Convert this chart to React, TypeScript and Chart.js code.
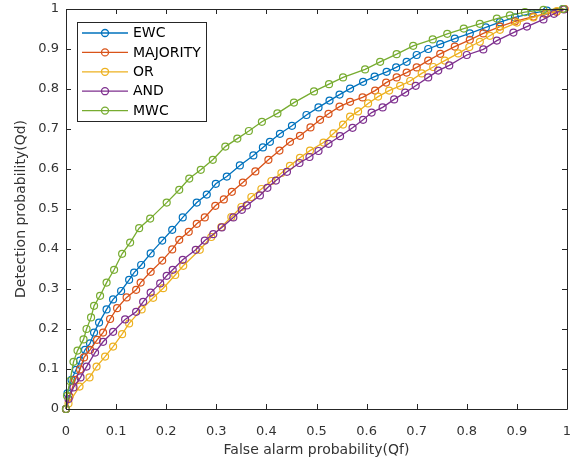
import { useEffect, useRef } from 'react';
import { Chart, registerables } from 'chart.js';

Chart.register(...registerables);

// ---------- data ----------
const seriesLabels = ['EWC', 'MAJORITY', 'OR', 'AND', 'MWC'];
const seriesColors = ['#0072BD', '#D95319', '#EDB120', '#7E2F8E', '#77AC30'];

const tickValues = [0, 0.1, 0.2, 0.3, 0.4, 0.5, 0.6, 0.7, 0.8, 0.9, 1];
const tickLabels = ['0', '0.1', '0.2', '0.3', '0.4', '0.5', '0.6', '0.7', '0.8', '0.9', '1'];

const xTitle = 'False alarm probability(Qf)';
const yTitle = 'Detection probability(Qd)';

const ewcX = [0, 0.003, 0.011, 0.02, 0.028, 0.038, 0.048, 0.056, 0.066, 0.081, 0.094, 0.11, 0.126, 0.136, 0.15, 0.169, 0.192, 0.212, 0.233, 0.261, 0.281, 0.299, 0.321, 0.347, 0.374, 0.393, 0.407, 0.427, 0.451, 0.48, 0.504, 0.526, 0.546, 0.567, 0.593, 0.616, 0.64, 0.659, 0.68, 0.7, 0.723, 0.747, 0.776, 0.806, 0.838, 0.866, 0.896, 0.93, 0.96, 0.992];
const ewcY = [0, 0.039, 0.073, 0.098, 0.121, 0.148, 0.164, 0.191, 0.216, 0.249, 0.274, 0.295, 0.323, 0.341, 0.36, 0.389, 0.421, 0.448, 0.479, 0.516, 0.536, 0.563, 0.581, 0.609, 0.634, 0.654, 0.668, 0.688, 0.708, 0.735, 0.754, 0.771, 0.786, 0.801, 0.818, 0.831, 0.843, 0.854, 0.868, 0.885, 0.9, 0.912, 0.926, 0.939, 0.954, 0.967, 0.979, 0.989, 0.996, 1.0];

const majX = [0, 0.007, 0.018, 0.028, 0.036, 0.048, 0.062, 0.074, 0.088, 0.102, 0.121, 0.14, 0.149, 0.169, 0.192, 0.212, 0.226, 0.245, 0.261, 0.277, 0.298, 0.315, 0.331, 0.353, 0.378, 0.404, 0.426, 0.447, 0.467, 0.488, 0.507, 0.524, 0.546, 0.567, 0.592, 0.617, 0.639, 0.66, 0.68, 0.7, 0.723, 0.747, 0.776, 0.806, 0.833, 0.866, 0.896, 0.933, 0.956, 0.979, 0.995];
const majY = [0, 0.031, 0.073, 0.099, 0.129, 0.148, 0.173, 0.191, 0.225, 0.252, 0.279, 0.298, 0.316, 0.343, 0.371, 0.399, 0.423, 0.443, 0.463, 0.479, 0.508, 0.524, 0.543, 0.566, 0.594, 0.623, 0.646, 0.668, 0.683, 0.704, 0.723, 0.738, 0.756, 0.768, 0.779, 0.796, 0.816, 0.829, 0.841, 0.854, 0.871, 0.888, 0.906, 0.923, 0.939, 0.956, 0.969, 0.981, 0.988, 0.993, 1.0];

const orX = [0, 0.005, 0.027, 0.047, 0.061, 0.078, 0.094, 0.112, 0.126, 0.151, 0.174, 0.194, 0.218, 0.234, 0.267, 0.29, 0.31, 0.33, 0.35, 0.37, 0.39, 0.41, 0.43, 0.447, 0.467, 0.487, 0.514, 0.534, 0.553, 0.567, 0.583, 0.603, 0.623, 0.645, 0.667, 0.687, 0.71, 0.733, 0.756, 0.783, 0.805, 0.826, 0.846, 0.866, 0.9, 0.933, 0.96, 0.98, 0.995];
const orY = [0, 0.014, 0.056, 0.079, 0.106, 0.131, 0.156, 0.187, 0.214, 0.249, 0.278, 0.302, 0.335, 0.358, 0.398, 0.43, 0.455, 0.48, 0.505, 0.53, 0.55, 0.57, 0.59, 0.608, 0.628, 0.646, 0.666, 0.689, 0.711, 0.731, 0.744, 0.764, 0.781, 0.796, 0.808, 0.82, 0.839, 0.855, 0.871, 0.889, 0.905, 0.918, 0.933, 0.948, 0.966, 0.979, 0.989, 0.995, 1.0];

const andX = [0, 0.005, 0.015, 0.029, 0.041, 0.058, 0.074, 0.094, 0.118, 0.14, 0.154, 0.169, 0.188, 0.201, 0.213, 0.233, 0.259, 0.277, 0.294, 0.311, 0.334, 0.351, 0.361, 0.387, 0.402, 0.419, 0.441, 0.466, 0.486, 0.504, 0.524, 0.547, 0.572, 0.593, 0.61, 0.632, 0.655, 0.677, 0.698, 0.723, 0.743, 0.765, 0.8, 0.833, 0.86, 0.893, 0.92, 0.953, 0.974, 0.994];
const andY = [0, 0.025, 0.054, 0.079, 0.106, 0.141, 0.168, 0.193, 0.224, 0.243, 0.268, 0.291, 0.314, 0.333, 0.348, 0.373, 0.398, 0.421, 0.437, 0.454, 0.479, 0.498, 0.509, 0.534, 0.553, 0.571, 0.593, 0.615, 0.63, 0.645, 0.663, 0.682, 0.703, 0.723, 0.741, 0.754, 0.774, 0.791, 0.808, 0.829, 0.846, 0.859, 0.885, 0.899, 0.921, 0.941, 0.956, 0.974, 0.988, 0.999];

const mwcX = [0, 0.002, 0.008, 0.015, 0.023, 0.035, 0.041, 0.05, 0.056, 0.068, 0.081, 0.096, 0.112, 0.128, 0.146, 0.168, 0.201, 0.226, 0.246, 0.269, 0.293, 0.318, 0.342, 0.365, 0.391, 0.422, 0.455, 0.495, 0.525, 0.553, 0.597, 0.627, 0.66, 0.693, 0.732, 0.761, 0.794, 0.826, 0.86, 0.886, 0.916, 0.953, 0.992];
const mwcY = [0, 0.033, 0.07, 0.118, 0.146, 0.174, 0.2, 0.229, 0.258, 0.283, 0.316, 0.348, 0.388, 0.416, 0.452, 0.476, 0.516, 0.548, 0.576, 0.598, 0.623, 0.656, 0.676, 0.695, 0.718, 0.739, 0.766, 0.794, 0.812, 0.829, 0.849, 0.868, 0.887, 0.908, 0.924, 0.938, 0.951, 0.963, 0.976, 0.984, 0.992, 0.998, 1.0];

const seriesX = [ewcX, majX, orX, andX, mwcX];
const seriesY = [ewcY, majY, orY, andY, mwcY];

const FONT = "'DejaVu Sans', 'Liberation Sans', Arial, sans-serif";
const AXIS_COLOR = '#262626';

const framePlugin = {
  id: 'matlabFrame',
  afterDraw(chart: any) {
    const { ctx, chartArea } = chart;
    const { left, right, top, bottom } = chartArea;
    const xs = chart.scales.x;
    const ys = chart.scales.y;
    ctx.save();
    ctx.strokeStyle = AXIS_COLOR;
    ctx.lineWidth = 1;
    ctx.beginPath();
    ctx.rect(Math.round(left) + 0.5, Math.round(top) + 0.5, Math.round(right - left), Math.round(bottom - top));
    ctx.stroke();
    const tl = 5;
    ctx.beginPath();
    tickValues.forEach((v) => {
      const px = Math.round(xs.getPixelForValue(v)) + 0.5;
      ctx.moveTo(px, bottom);
      ctx.lineTo(px, bottom - tl);
      ctx.moveTo(px, top);
      ctx.lineTo(px, top + tl);
      const py = Math.round(ys.getPixelForValue(v)) + 0.5;
      ctx.moveTo(left, py);
      ctx.lineTo(left + tl, py);
      ctx.moveTo(right, py);
      ctx.lineTo(right - tl, py);
    });
    ctx.stroke();

    // legend box (MATLAB style, north-west inside axes)
    const bx = 77.5, by = 22.5, bw = 129, bh = 99;
    ctx.fillStyle = '#ffffff';
    ctx.fillRect(bx, by, bw, bh);
    ctx.strokeStyle = AXIS_COLOR;
    ctx.strokeRect(bx, by, bw, bh);
    const ds = chart.data.datasets;
    ctx.font = `14px ${FONT}`;
    ctx.textBaseline = 'middle';
    ctx.textAlign = 'left';
    ds.forEach((d: any, i: number) => {
      const cy = 33 + i * 19.4;
      ctx.strokeStyle = d.borderColor;
      ctx.lineWidth = 1.3;
      ctx.beginPath();
      ctx.moveTo(82, cy);
      ctx.lineTo(128, cy);
      ctx.stroke();
      ctx.beginPath();
      ctx.arc(105, cy, 3.5, 0, Math.PI * 2);
      ctx.stroke();
      ctx.fillStyle = '#000000';
      ctx.fillText(d.label, 133, cy + 0.5);
    });
    ctx.restore();
  },
};

const zeroPad = (scale: any) => {
  scale.paddingTop = 0;
  scale.paddingBottom = 0;
  scale.paddingLeft = 0;
  scale.paddingRight = 0;
};

export default function App() {
  const canvasRef = useRef<HTMLCanvasElement | null>(null);

  useEffect(() => {
    if (!canvasRef.current) return;
    const datasets = seriesLabels.map((label, i) => ({
      label,
      data: seriesX[i].map((x, j) => ({ x, y: seriesY[i][j] })),
      borderColor: seriesColors[i],
      backgroundColor: 'transparent',
      pointBorderColor: seriesColors[i],
      pointBackgroundColor: 'rgba(0,0,0,0)',
      pointRadius: 3.5,
      pointBorderWidth: 1.2,
      borderWidth: 1.3,
      tension: 0,
      fill: false,
      clip: 10,
      order: seriesLabels.length - i,
    }));

    const chart = new Chart(canvasRef.current, {
      type: 'line',
      data: { datasets },
      options: {
        animation: false,
        responsive: false,
        maintainAspectRatio: false,
        layout: { padding: { left: 0, top: 9, right: 9, bottom: 0 } },
        plugins: {
          legend: { display: false },
          tooltip: { enabled: false },
        },
        scales: {
          x: {
            type: 'linear',
            min: 0,
            max: 1,
            grid: { display: false, drawTicks: false },
            border: { display: false },
            ticks: {
              stepSize: 0.1,
              padding: 15,
              color: '#333333',
              font: { family: FONT, size: 13 },
              maxRotation: 0,
              autoSkip: false,
              callback: (v: any, idx: number) => tickLabels[idx],
            },
            title: {
              display: true,
              text: xTitle,
              color: '#333333',
              font: { family: FONT, size: 14 },
              padding: { top: 0, bottom: 7 },
            },
            afterFit: (scale: any) => {
              scale.height = 57;
              zeroPad(scale);
            },
          },
          y: {
            type: 'linear',
            min: 0,
            max: 1,
            grid: { display: false, drawTicks: false },
            border: { display: false },
            ticks: {
              stepSize: 0.1,
              padding: 7,
              color: '#333333',
              font: { family: FONT, size: 13 },
              autoSkip: false,
              callback: (v: any, idx: number) => tickLabels[idx],
            },
            title: {
              display: true,
              text: yTitle,
              color: '#333333',
              font: { family: FONT, size: 14 },
              padding: { top: 13, bottom: 0 },
            },
            afterFit: (scale: any) => {
              scale.width = 66;
              zeroPad(scale);
            },
          },
        },
      },
      plugins: [framePlugin],
    });
    return () => chart.destroy();
  }, []);

  return (
    <div style={{ position: 'absolute', left: 0, top: 0, width: 576, height: 466, background: '#fff' }}>
      <canvas ref={canvasRef} width={576} height={466} style={{ display: 'block' }} />
    </div>
  );
}
